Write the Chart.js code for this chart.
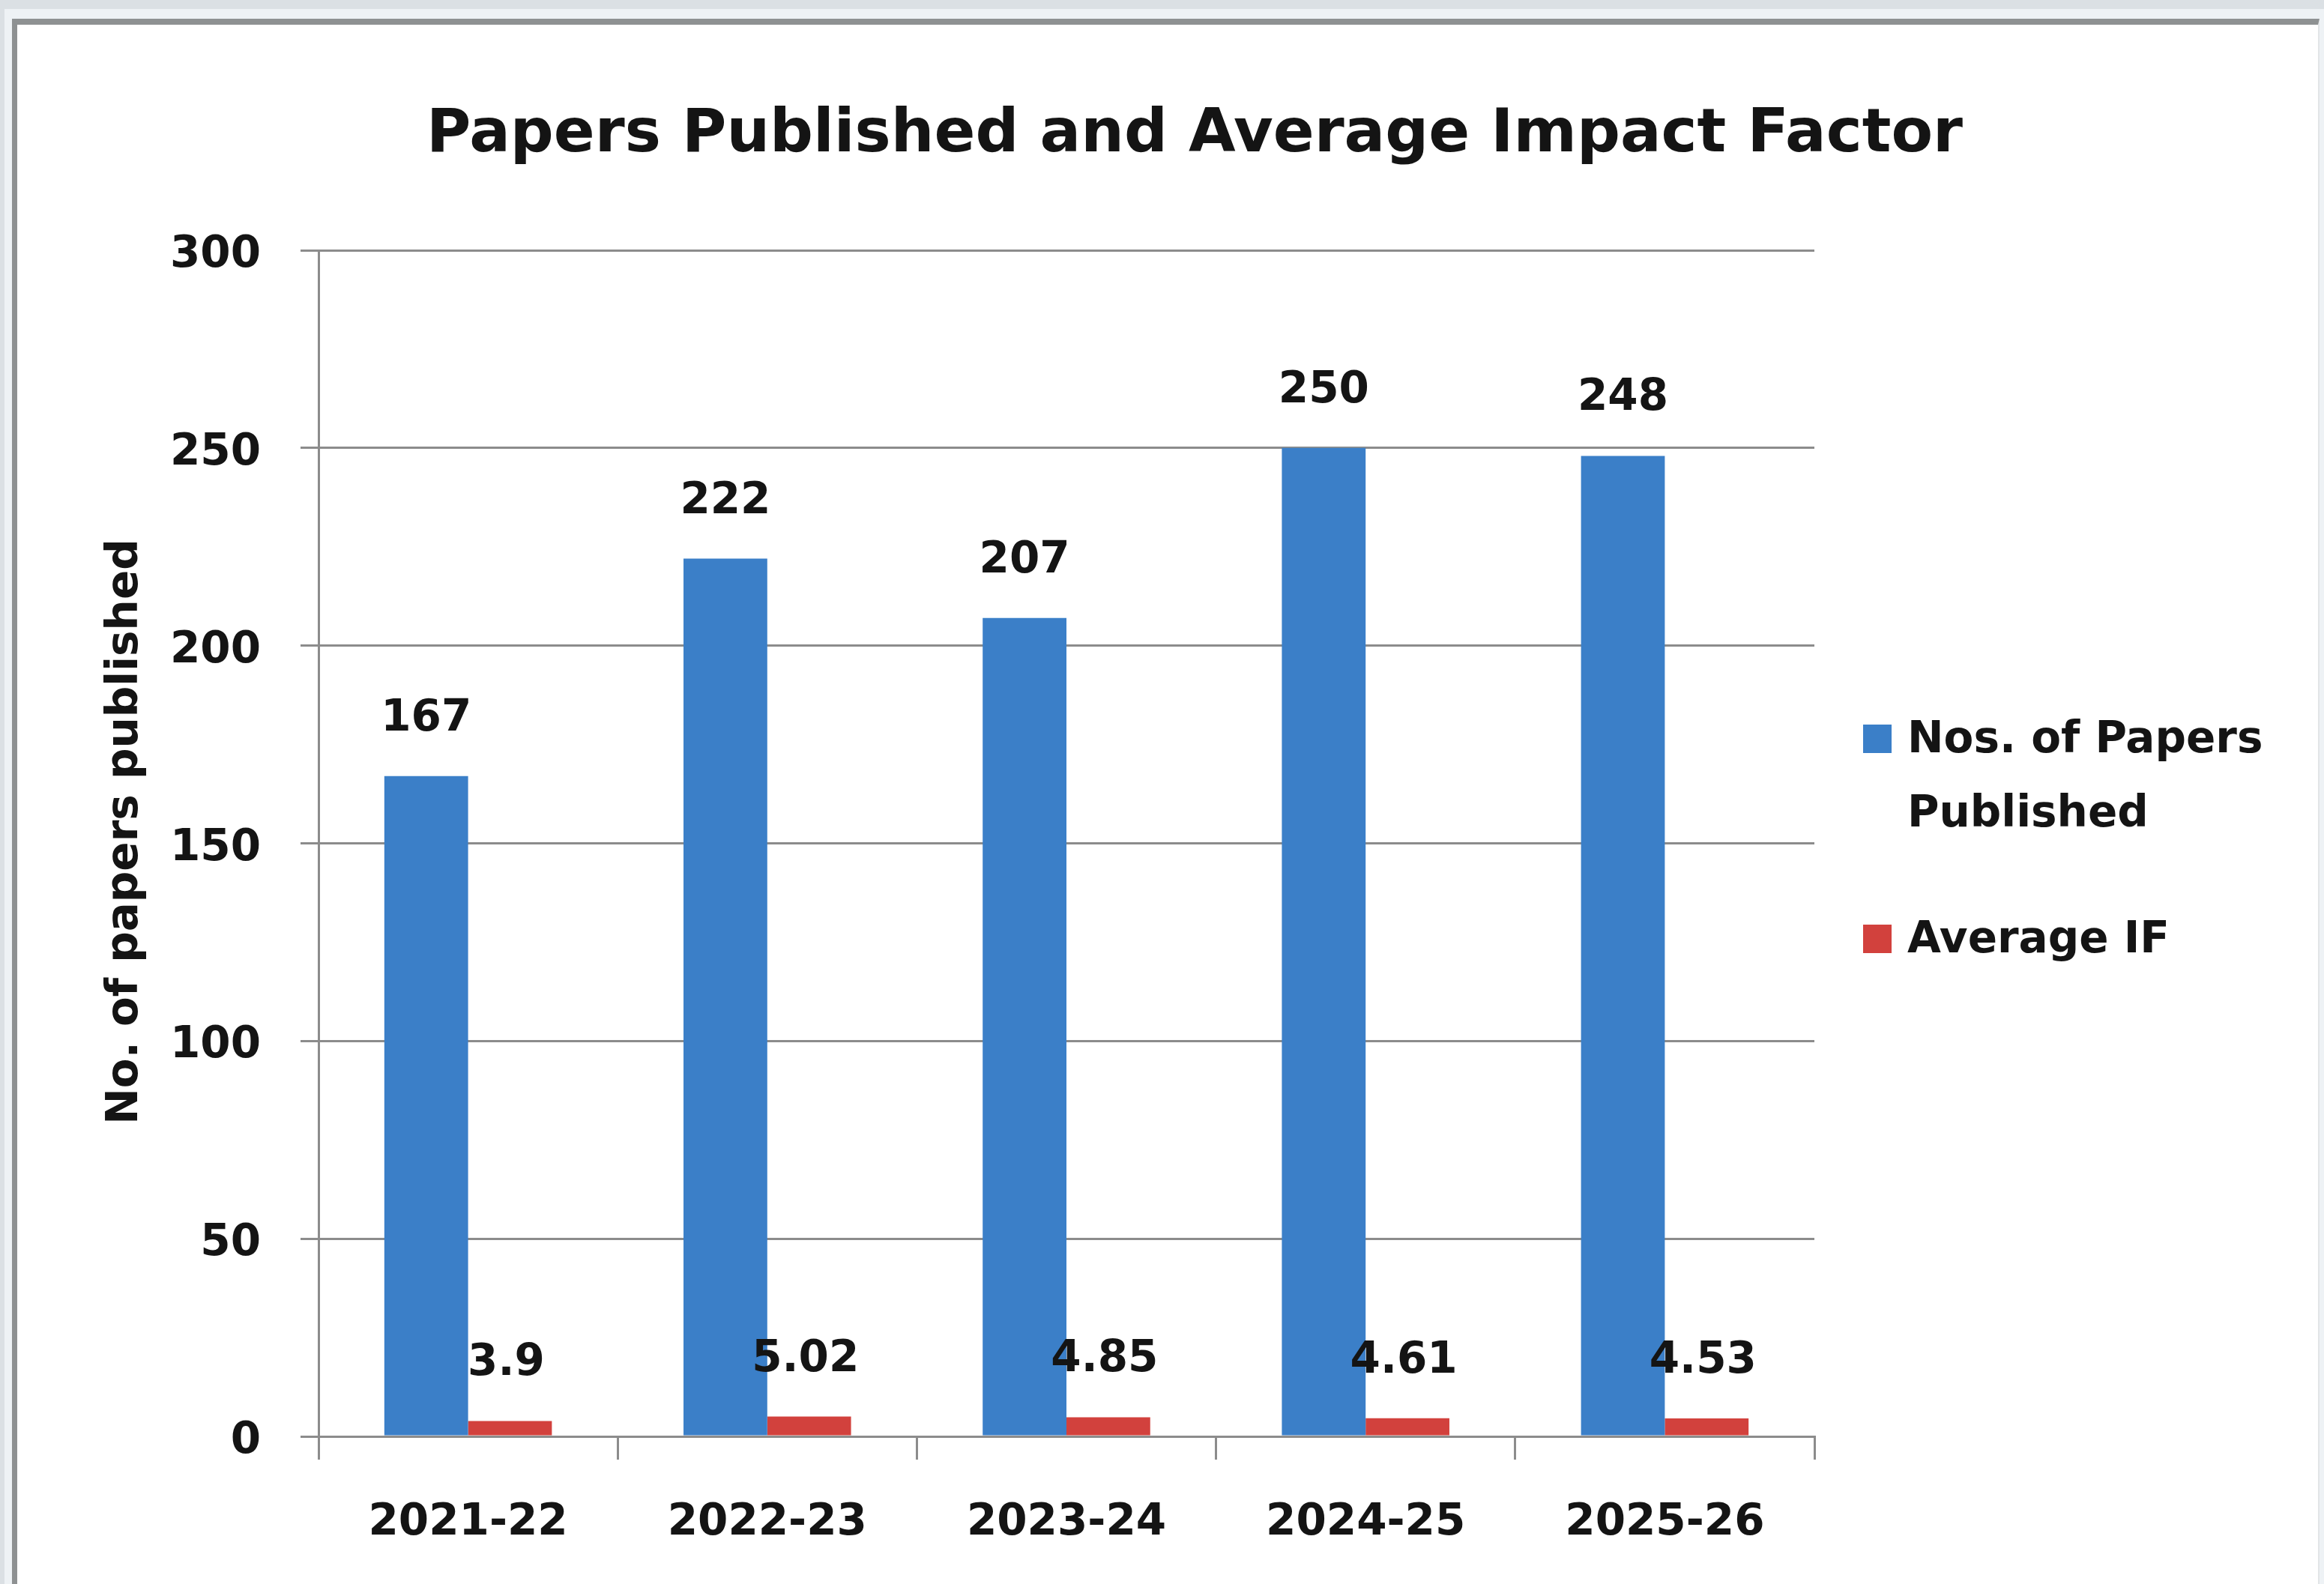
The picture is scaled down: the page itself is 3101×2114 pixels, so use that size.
<!DOCTYPE html>
<html>
<head>
<meta charset="utf-8">
<script src="https://cdn.jsdelivr.net/npm/chart.js@4.4.1/dist/chart.umd.min.js"></script>
<style>
html,body{margin:0;padding:0;background:#dbe0e4;width:3101px;height:2114px;overflow:hidden}
#strip{position:absolute;left:6px;top:12px;right:0;bottom:0;background:#eef2f5}
#box{position:absolute;left:16px;top:25px;right:6px;bottom:-20px;background:#fff;border-top:8px solid #8e9192;border-left:7px solid #8e9192;border-right:2px solid #e2e5e7}
canvas{position:absolute;left:0;top:0}
</style>
</head>
<body>
<div id="strip"></div>
<div id="box"></div>
<canvas id="c" width="3101" height="2114"></canvas>
<script>
const chartTitle = 'Papers Published and Average Impact Factor';
const yAxisTitle = 'No. of papers published';
const categories = ['2021-22', '2022-23', '2023-24', '2024-25', '2025-26'];
const seriesNames = ['Nos. of Papers Published', 'Average IF'];
const papersPublished = [167, 222, 207, 250, 248];
const averageIF = [3.9, 5.02, 4.85, 4.61, 4.53];
const yTicks = [0, 50, 100, 150, 200, 250, 300];

const FONT = 'DejaVu Sans';
const TEXT = '#141414';
const GRID = '#8c8c8c';
Chart.defaults.font.family = FONT;
Chart.defaults.color = TEXT;

const titlePlugin = {
  id: 'titlePlugin',
  afterDraw(chart) {
    const ctx = chart.ctx;
    ctx.save();
    ctx.font = 'bold 81px ' + FONT;
    ctx.fillStyle = TEXT;
    ctx.textAlign = 'center';
    ctx.textBaseline = 'middle';
    ctx.fillText(chartTitle, 1594, 181);
    ctx.restore();
    // y-axis title
    ctx.save();
    ctx.font = 'bold 58px ' + FONT;
    ctx.fillStyle = TEXT;
    ctx.textAlign = 'center';
    ctx.textBaseline = 'middle';
    ctx.translate(168, 1110);
    ctx.rotate(-Math.PI / 2);
    ctx.fillText(yAxisTitle, 0, 0);
    ctx.restore();
  }
};

const dataLabels = {
  id: 'dataLabels',
  afterDatasetsDraw(chart) {
    const ctx = chart.ctx;
    ctx.save();
    ctx.font = 'bold 58px ' + FONT;
    ctx.fillStyle = TEXT;
    ctx.textAlign = 'center';
    ctx.textBaseline = 'middle';
    chart.data.datasets.forEach((ds, di) => {
      const meta = chart.getDatasetMeta(di);
      meta.data.forEach((el, i) => {
        ctx.fillText(String(ds.data[i]), el.x - (di === 1 ? 5 : 0), el.y - 76);
      });
    });
    ctx.restore();
  }
};

const sideLegend = {
  id: 'sideLegend',
  afterDraw(chart) {
    const ctx = chart.ctx;
    ctx.save();
    ctx.font = 'bold 58px ' + FONT;
    ctx.fillStyle = TEXT;
    ctx.textAlign = 'left';
    ctx.textBaseline = 'middle';
    const boxX = 2486, textX = 2545, box = 38, lineH = 99, gap = 168, maxW = 500;
    let y = 989;
    chart.data.datasets.forEach(ds => {
      const words = ds.label.split(' ');
      const lines = [];
      let cur = '';
      words.forEach(w => {
        const t = cur ? cur + ' ' + w : w;
        if (ctx.measureText(t).width > maxW && cur) { lines.push(cur); cur = w; }
        else cur = t;
      });
      if (cur) lines.push(cur);
      ctx.fillStyle = ds.backgroundColor;
      ctx.fillRect(boxX, y - box / 2 - 3, box, box);
      ctx.fillStyle = TEXT;
      lines.forEach((ln, k) => {
        ctx.fillText(ln, textX, y + k * lineH);
      });
      y = y + (lines.length - 1) * lineH + gap;
    });
    ctx.restore();
  }
};

new Chart(document.getElementById('c'), {
  type: 'bar',
  data: {
    labels: categories,
    datasets: [
      { label: seriesNames[0], data: papersPublished, backgroundColor: '#3b7fc8', borderWidth: 0,
        barPercentage: 1.0, categoryPercentage: 0.56 },
      { label: seriesNames[1], data: averageIF, backgroundColor: '#d2413d', borderWidth: 0,
        barPercentage: 1.0, categoryPercentage: 0.56 }
    ]
  },
  options: {
    responsive: false,
    animation: false,
    devicePixelRatio: 1,
    layout: { padding: { top: 334, right: 680, bottom: 0, left: 0 } },
    plugins: {
      legend: { display: false },
      title: { display: false },
      tooltip: { enabled: false }
    },
    scales: {
      x: {
        offset: true,
        grid: { offset: true, drawOnChartArea: false, drawTicks: true, tickLength: 31, color: GRID, lineWidth: 3 },
        border: { display: true, color: GRID, width: 3 },
        ticks: { padding: 50, font: { size: 58, weight: 'bold' }, color: TEXT, maxRotation: 0, autoSkip: false },
        afterFit(scale) { scale.height = 197; }
      },
      y: {
        min: 0,
        max: 300,
        afterBuildTicks(scale) { scale.ticks = yTicks.map(v => ({ value: v })); },
        grid: { color: GRID, lineWidth: 3, tickLength: 24, drawTicks: true },
        border: { display: true, color: GRID, width: 3 },
        ticks: { padding: 53, labelOffset: 7, font: { size: 58, weight: 'bold' }, color: TEXT },
        title: { display: false },
        afterFit(scale) { scale.width = 425; }
      }
    }
  },
  plugins: [titlePlugin, dataLabels, sideLegend]
});
</script>
</body>
</html>
